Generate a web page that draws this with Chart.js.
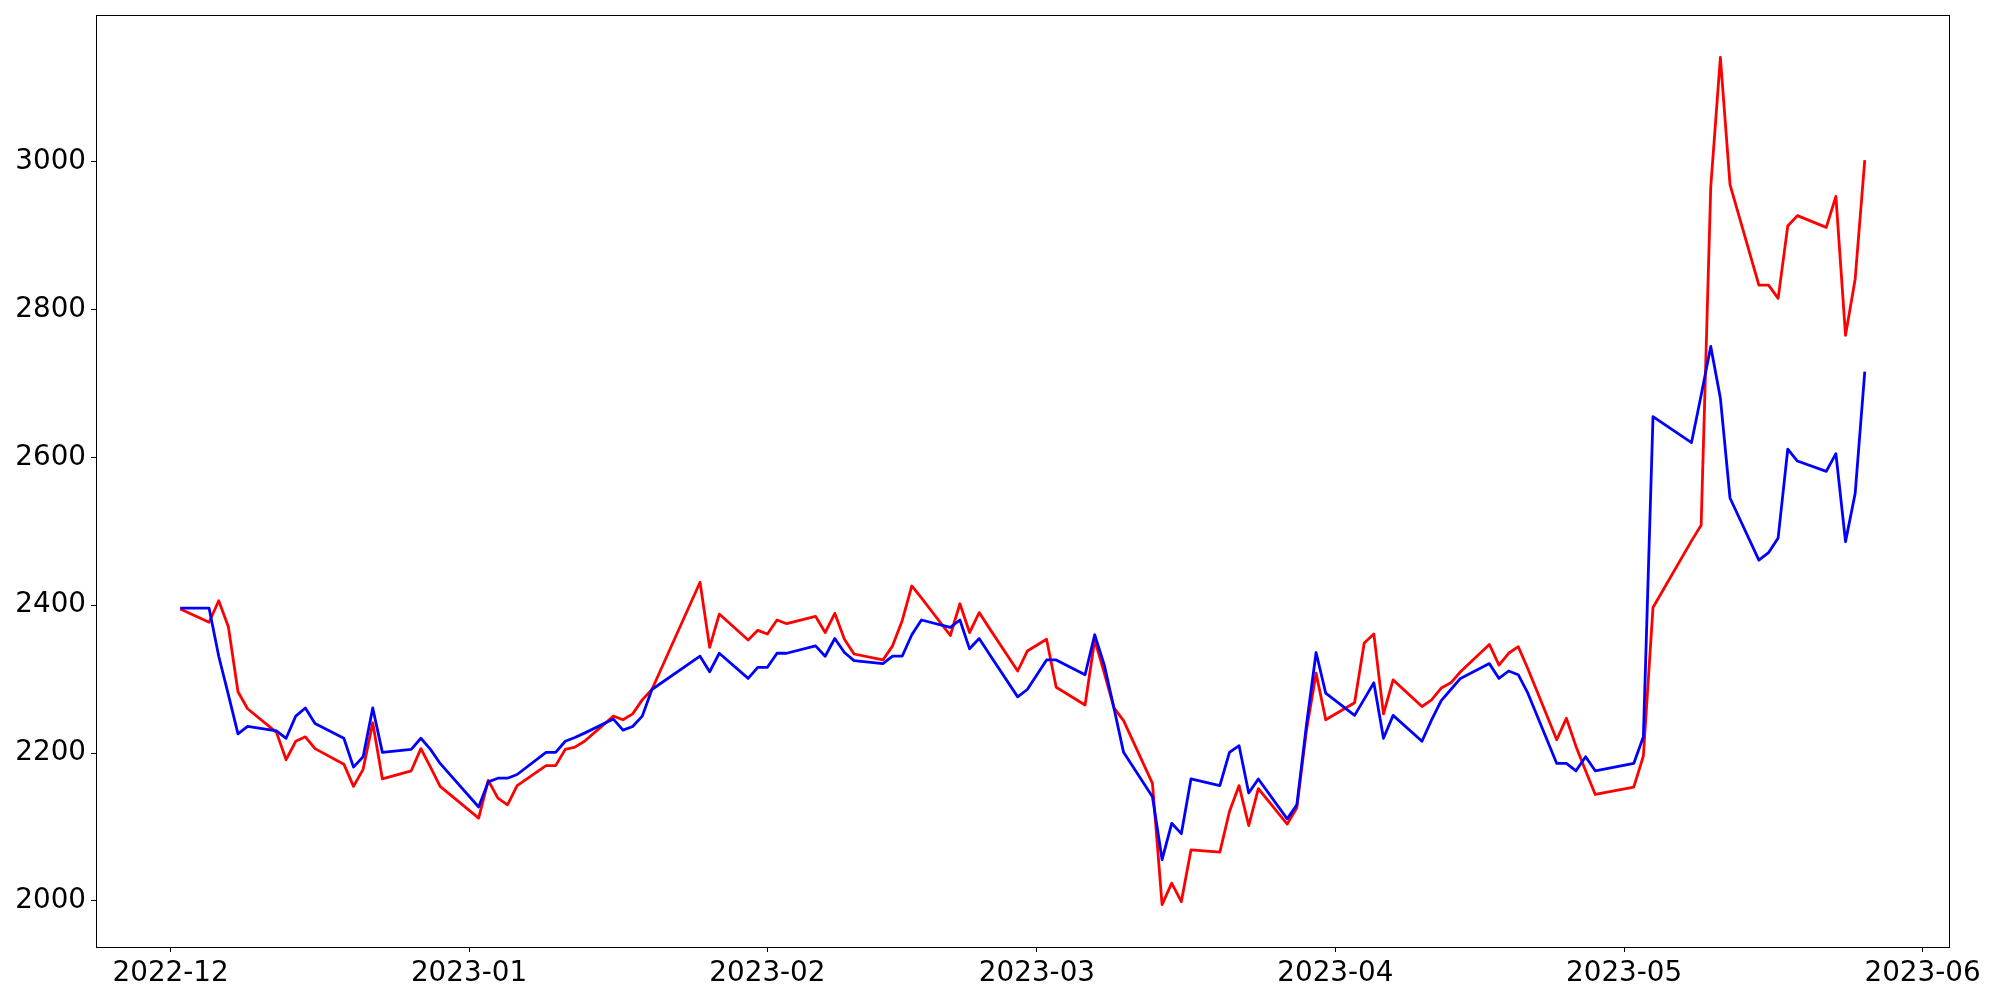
<!DOCTYPE html>
<html>
<head>
<meta charset="utf-8">
<script src="https://cdn.jsdelivr.net/npm/chart.js@4.4.1/dist/chart.umd.min.js"></script>
<style>
  html, body { margin: 0; padding: 0; background: #fff; }
  #chart { display: block; }
</style>
</head>
<body>
<canvas id="chart" width="2000" height="1000"></canvas>
<script>
// Trading days shown on the x axis
const tradeDates = [
  '2022-12-02', '2022-12-05', '2022-12-06', '2022-12-07', '2022-12-08', '2022-12-09',
  '2022-12-12', '2022-12-13', '2022-12-14', '2022-12-15', '2022-12-16',
  '2022-12-19', '2022-12-20', '2022-12-21', '2022-12-22', '2022-12-23',
  '2022-12-26', '2022-12-27', '2022-12-28', '2022-12-29',
  '2023-01-02', '2023-01-03', '2023-01-04', '2023-01-05', '2023-01-06',
  '2023-01-09', '2023-01-10', '2023-01-11', '2023-01-12', '2023-01-13',
  '2023-01-16', '2023-01-17', '2023-01-18', '2023-01-19', '2023-01-20',
  '2023-01-25', '2023-01-26', '2023-01-27', '2023-01-30', '2023-01-31',
  '2023-02-01', '2023-02-02', '2023-02-03', '2023-02-06', '2023-02-07',
  '2023-02-08', '2023-02-09', '2023-02-10', '2023-02-13', '2023-02-14',
  '2023-02-15', '2023-02-16', '2023-02-17', '2023-02-20', '2023-02-21',
  '2023-02-22', '2023-02-23', '2023-02-24', '2023-02-27', '2023-02-28',
  '2023-03-02', '2023-03-03', '2023-03-06', '2023-03-07', '2023-03-08',
  '2023-03-09', '2023-03-10', '2023-03-13', '2023-03-14', '2023-03-15',
  '2023-03-16', '2023-03-17', '2023-03-20', '2023-03-21', '2023-03-22',
  '2023-03-23', '2023-03-24', '2023-03-27', '2023-03-28', '2023-03-29',
  '2023-03-30', '2023-03-31',
  '2023-04-03', '2023-04-04', '2023-04-05', '2023-04-06', '2023-04-07',
  '2023-04-10', '2023-04-11', '2023-04-12', '2023-04-13', '2023-04-14',
  '2023-04-17', '2023-04-18', '2023-04-19', '2023-04-20', '2023-04-21',
  '2023-04-24', '2023-04-25', '2023-04-26', '2023-04-27', '2023-04-28',
  '2023-05-02', '2023-05-03', '2023-05-04', '2023-05-08', '2023-05-09',
  '2023-05-10', '2023-05-11', '2023-05-12', '2023-05-15', '2023-05-16',
  '2023-05-17', '2023-05-18', '2023-05-19', '2023-05-22', '2023-05-23',
  '2023-05-24', '2023-05-25', '2023-05-26'
];

// Red series
const redValues = [
  2395, 2377, 2406, 2371, 2283, 2260, 2228, 2191, 2216, 2222, 2206,
  2185, 2155, 2178, 2241, 2165, 2176, 2206, 2181, 2155,
  2112, 2163, 2139, 2130, 2156, 2183, 2183, 2205, 2208, 2216,
  2250, 2245, 2253, 2272, 2286, 2431, 2343, 2388, 2353, 2366,
  2361, 2380, 2375, 2385, 2363, 2389, 2354, 2334, 2326, 2345,
  2379, 2426, 2410, 2359, 2402, 2363, 2390, 2370, 2311, 2338,
  2354, 2289, 2265, 2353, 2308, 2261, 2244, 2159, 1995, 2024,
  1999, 2069, 2066, 2121, 2156, 2102, 2152, 2104, 2126, 2231, 2308, 2245,
  2268, 2349, 2361, 2253, 2299, 2263, 2272, 2288, 2295, 2310,
  2347, 2319, 2335, 2344, 2314, 2218, 2247, 2209, 2176, 2144,
  2154, 2196, 2397, 2487, 2508, 2966, 3141, 2969, 2833, 2833,
  2815, 2913, 2927, 2911, 2953, 2765, 2841, 3002
];

// Blue series
const blueValues = [
  2396, 2396, 2331, 2279, 2226, 2236, 2230, 2220, 2250, 2261, 2240,
  2220, 2181, 2195, 2261, 2201, 2205, 2220, 2205, 2186,
  2127, 2161, 2166, 2166, 2171, 2201, 2201, 2216, 2221, 2227,
  2246, 2231, 2236, 2250, 2286, 2331, 2310, 2335, 2301, 2316,
  2316, 2335, 2335, 2345, 2331, 2355, 2336, 2325, 2321, 2331,
  2331, 2360, 2380, 2370, 2380, 2341, 2355, 2335, 2276, 2286,
  2326, 2326, 2306, 2360, 2319, 2261, 2201, 2141, 2056, 2105,
  2091, 2165, 2156, 2201, 2210, 2146, 2165, 2111, 2130, 2238, 2336, 2281,
  2251, 2273, 2295, 2220, 2251, 2216, 2245, 2271, 2286, 2301,
  2321, 2301, 2311, 2306, 2281, 2186, 2186, 2176, 2195, 2176,
  2186, 2222, 2655, 2620, 2684, 2750, 2680, 2545, 2461, 2471,
  2491, 2611, 2595, 2581, 2605, 2486, 2551, 2716
];

// Axis ticks
const xTickLabels = ['2022-12', '2023-01', '2023-02', '2023-03', '2023-04', '2023-05', '2023-06'];
const yTickValues = [2000, 2200, 2400, 2600, 2800, 3000];

// day number from 'YYYY-MM-DD'
function toDay(s) {
  const [y, m, d] = s.split('-').map(Number);
  return Date.UTC(y, m - 1, d) / 86400000;
}

const xs = tradeDates.map(toDay);
const xTickPos = xTickLabels.map(l => toDay(l + '-01'));

// matplotlib-like 5% margins
const xSpan = xs[xs.length - 1] - xs[0];
const xMin = xs[0] - 0.05 * xSpan;
const xMax = xs[xs.length - 1] + 0.05 * xSpan;
const allY = redValues.concat(blueValues);
const yLo = Math.min(...allY);
const yHi = Math.max(...allY);
const yMin = yLo - 0.05 * (yHi - yLo);
const yMax = yHi + 0.05 * (yHi - yLo);

const toPoints = vals => vals.map((v, i) => ({ x: xs[i], y: v }));

// draws the full axes frame (all four spines)
const frame = {
  id: 'frame',
  afterDatasetsDraw(chart) {
    const { ctx, chartArea: a } = chart;
    ctx.save();
    ctx.strokeStyle = '#000';
    ctx.lineWidth = 1;
    ctx.strokeRect(Math.round(a.left) + 0.5, Math.round(a.top) + 0.5,
      Math.round(a.right - a.left), Math.round(a.bottom - a.top));
    ctx.restore();
  }
};

Chart.defaults.font.family = '"DejaVu Sans", sans-serif';
Chart.defaults.font.size = 27.8;
Chart.defaults.color = '#000';

const tickGrid = {
  display: true,
  drawOnChartArea: false,
  drawTicks: true,
  tickLength: 5,
  tickColor: '#000',
  tickWidth: 1
};

new Chart(document.getElementById('chart'), {
  type: 'line',
  data: {
    datasets: [
      {
        label: 'red',
        data: toPoints(redValues),
        borderColor: '#ff0000',
        borderWidth: 2.8,
        pointRadius: 0,
        tension: 0,
        borderJoinStyle: 'round',
        fill: false,
        order: 1
      },
      {
        label: 'blue',
        data: toPoints(blueValues),
        borderColor: '#0000ff',
        borderWidth: 2.8,
        pointRadius: 0,
        tension: 0,
        borderJoinStyle: 'round',
        fill: false,
        order: 0
      }
    ]
  },
  options: {
    responsive: false,
    animation: false,
    devicePixelRatio: 1,
    layout: { padding: { top: 15, right: 51, left: 0, bottom: 0 } },
    plugins: {
      legend: { display: false },
      tooltip: { enabled: false }
    },
    scales: {
      x: {
        type: 'linear',
        min: xMin,
        max: xMax,
        bounds: 'data',
        grid: tickGrid,
        border: { display: false },
        ticks: {
          autoSkip: false,
          maxRotation: 0,
          padding: 5,
          callback: v => xTickLabels[xTickPos.indexOf(v)] || ''
        },
        afterBuildTicks: s => { s.ticks = xTickPos.map(v => ({ value: v })); },
        afterFit: s => {
          s.height = 53;
          s.paddingLeft = 0;
          s.paddingRight = 0;
        }
      },
      y: {
        type: 'linear',
        min: yMin,
        max: yMax,
        bounds: 'data',
        grid: tickGrid,
        border: { display: false },
        ticks: {
          autoSkip: false,
          padding: 5,
          callback: v => String(v)
        },
        afterBuildTicks: s => { s.ticks = yTickValues.map(v => ({ value: v })); },
        afterFit: s => {
          s.width = 96;
          s.paddingTop = 0;
          s.paddingBottom = 0;
        }
      }
    }
  },
  plugins: [frame]
});
</script>
</body>
</html>
